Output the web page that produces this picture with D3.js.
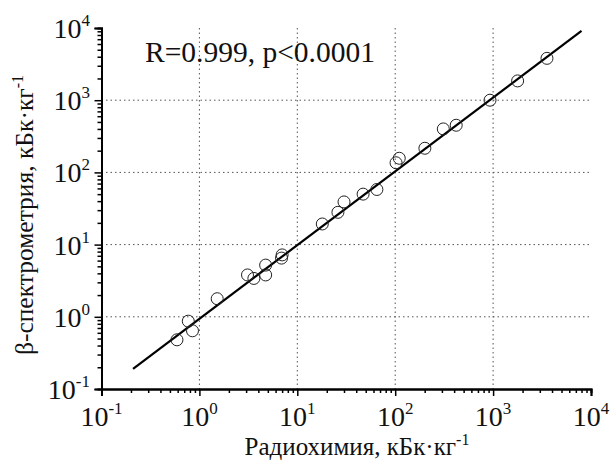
<!DOCTYPE html>
<html>
<head>
<meta charset="utf-8">
<script src="https://cdn.jsdelivr.net/npm/d3@7"></script>
<style>
  body { margin: 0; background: #fff; }
  text { font-family: 'Liberation Serif', 'Times New Roman', serif; fill: #111; }
</style>
</head>
<body>
<svg id="chart" width="611" height="461"></svg>
<script>
// radiochemistry vs beta-spectrometry, kBq/kg
const radiochem = [0.59, 0.77, 0.85, 1.52, 3.1, 3.6, 4.75, 4.75, 7.0, 6.9, 18, 26, 30, 47, 65, 102, 110, 201, 310, 420, 930, 1780, 3550];
const betaSpec  = [0.48, 0.87, 0.64, 1.78, 3.8, 3.4, 5.2, 3.8, 7.2, 6.5, 19.3, 28, 39, 50, 58, 136, 157, 216, 400, 450, 1000, 1850, 3800];
// regression line ends
const fitX = [0.21, 8000];
const fitY = [0.19, 9100];
const exponents = [-1, 0, 1, 2, 3, 4];
const gridExp = [0, 1, 2, 3];

const svg = d3.select('#chart');
const x = d3.scaleLog().domain([0.1, 1e4]).range([101.5, 591]);
const y = d3.scaleLog().domain([0.1, 1e4]).range([389, 28]);

const majors = exponents.map(e => Math.pow(10, e));
const minors = [];
exponents.slice(0, -1).forEach(e => {
    for (let k = 2; k < 10; k++) minors.push(k * Math.pow(10, e));
});

// dotted grid
const grid = svg.append('g')
    .attr('stroke', '#555')
    .attr('stroke-width', 1)
    .attr('stroke-dasharray', '1.5,3');
grid.selectAll('.gx').data(gridExp).enter().append('line')
    .attr('x1', d => x(Math.pow(10, d))).attr('x2', d => x(Math.pow(10, d)))
    .attr('y1', y(1e4)).attr('y2', y(0.1));
grid.selectAll('.gy').data(gridExp).enter().append('line')
    .attr('x1', x(0.1)).attr('x2', x(1e4))
    .attr('y1', d => y(Math.pow(10, d))).attr('y2', d => y(Math.pow(10, d)));

// axes
const axisStyle = g => {
    g.selectAll('path, line').attr('stroke', '#000');
    g.select('.domain').attr('stroke-width', 2);
    g.selectAll('.tick line').attr('stroke-width', 1.5);
};
svg.append('g').attr('transform', `translate(0,${y(0.1)})`)
    .call(d3.axisBottom(x).tickValues(minors).tickSize(4).tickFormat(''))
    .call(axisStyle);
svg.append('g').attr('transform', `translate(0,${y(0.1)})`)
    .call(d3.axisBottom(x).tickValues(majors).tickSize(7).tickFormat(''))
    .call(axisStyle);
svg.append('g').attr('transform', `translate(${x(0.1)},0)`)
    .call(d3.axisLeft(y).tickValues(minors).tickSize(4).tickFormat(''))
    .call(axisStyle);
svg.append('g').attr('transform', `translate(${x(0.1)},0)`)
    .call(d3.axisLeft(y).tickValues(majors).tickSize(7).tickFormat(''))
    .call(axisStyle);

// tick labels 10^n
const xl = svg.selectAll('.xl').data(exponents).enter().append('text')
    .attr('x', d => x(Math.pow(10, d)))
    .attr('y', 426)
    .attr('text-anchor', 'middle')
    .style('font-size', '28px');
xl.append('tspan').text('10');
xl.append('tspan').attr('dy', -12).style('font-size', '17px').text(d => d);

const yl = svg.selectAll('.yl').data(exponents).enter().append('text')
    .attr('x', 90)
    .attr('y', d => y(Math.pow(10, d)) + 10)
    .attr('text-anchor', 'end')
    .style('font-size', '28px');
yl.append('tspan').text('10');
yl.append('tspan').attr('dy', -12).style('font-size', '17px').text(d => d);

// regression line
svg.append('line')
    .attr('x1', x(fitX[0])).attr('y1', y(fitY[0]))
    .attr('x2', x(fitX[1])).attr('y2', y(fitY[1]))
    .attr('stroke', '#000').attr('stroke-width', 2.2);

// points
svg.selectAll('.pt').data(radiochem).enter().append('circle')
    .attr('cx', d => x(d))
    .attr('cy', (d, i) => y(betaSpec[i]))
    .attr('r', 6)
    .attr('fill', 'none')
    .attr('stroke', '#222')
    .attr('stroke-width', 1);

// annotation
svg.append('text').attr('x', 145).attr('y', 62)
    .style('font-size', '29.5px')
    .text('R=0.999, p<0.0001');

// axis titles
const xt = svg.append('text').attr('x', 357).attr('y', 455)
    .attr('text-anchor', 'middle').style('font-size', '25px');
xt.append('tspan').text('Радиохимия, кБк·кг');
xt.append('tspan').attr('dy', -10).style('font-size', '16px').text('-1');

const yt = svg.append('text')
    .attr('transform', 'translate(33,215) rotate(-90)')
    .attr('text-anchor', 'middle').style('font-size', '25.5px');
yt.append('tspan').text('β-спектрометрия, кБк·кг');
yt.append('tspan').attr('dy', -10).style('font-size', '16px').text('-1');
</script>
</body>
</html>
